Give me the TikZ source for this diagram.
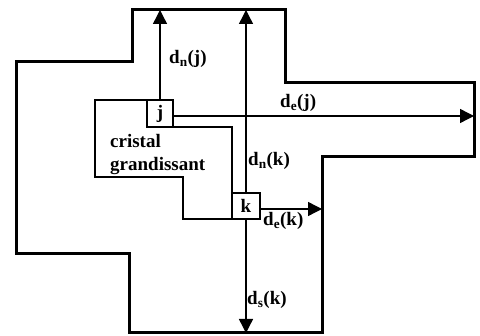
\documentclass[tikz,border=0pt]{standalone}
\usepackage{fontspec}
\setmainfont{Liberation Serif}
\usetikzlibrary{arrows.meta}
\begin{document}
\begin{tikzpicture}[x=1pt,y=-1pt,
  outer/.style={line width=3pt, line join=miter},
  thinline/.style={line width=1.4pt},
  box/.style={draw, line width=1.4pt, minimum width=26pt, minimum height=27pt, inner sep=0pt, font=\fontsize{19}{19}\selectfont\bfseries},
  arr/.style={line width=1.4pt, -{Triangle[length=14pt,width=14pt]}},
  lab/.style={anchor=base west, inner sep=0pt, font=\fontsize{19}{19}\selectfont\bfseries}]
\useasboundingbox (0,0) rectangle (480,336);
% outer boundary
\draw[outer] (132,10) -- (285,10) -- (285,83) -- (474,83) -- (474,157) -- (322,157) -- (322,333) -- (129,333) -- (129,254) -- (16,254) -- (16,62) -- (132,62) -- cycle;
% growing crystal
\draw[thinline] (95,100) -- (173,100) -- (173,127) -- (232,127) -- (232,219) -- (183,219) -- (183,177) -- (95,177) -- cycle;
\node[box] (j) at (160,113.5) {j};
\node[box, minimum width=28pt, minimum height=26pt] (k) at (246,206) {k};
% arrow end points
\coordinate (nj) at (160,10);
\coordinate (ej) at (474,116);
\coordinate (nk) at (246,10);
\coordinate (sk) at (246,333);
\coordinate (ek) at (322,209);
\draw[arr] (j.north) -- (nj);
\draw[arr] ([yshift=-2.5pt]j.east) -- (ej);
\draw[arr] (k.north) -- (nk);
\draw[arr] (k.south) -- (sk);
\draw[arr] ([yshift=-3pt]k.east) -- (ek);
% labels
\node[lab] (lnj) at (169,64) {d\textsubscript{n}(j)};
\node[lab] (lej) at (280,108) {d\textsubscript{e}(j)};
\node[lab] (lnk) at (248,166) {d\textsubscript{n}(k)};
\node[lab] (lek) at (263,226) {d\textsubscript{e}(k)};
\node[lab] (lsk) at (247,305) {d\textsubscript{s}(k)};
\node[lab] (c1) at (110,148) {cristal};
\node[lab] (c2) at (110,171) {grandissant};
\end{tikzpicture}
\end{document}
